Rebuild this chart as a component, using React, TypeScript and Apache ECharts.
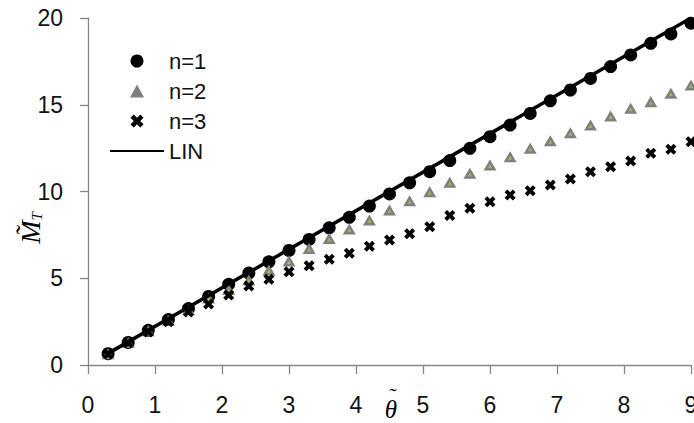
import React, { useEffect, useRef } from "react";
import * as echarts from "echarts";

const thetaValues = [0.3, 0.6, 0.9, 1.2, 1.5, 1.8, 2.1, 2.4, 2.7, 3.0, 3.3, 3.6, 3.9, 4.2, 4.5, 4.8, 5.1, 5.4, 5.7, 6.0, 6.3, 6.6, 6.9, 7.2, 7.5, 7.8, 8.1, 8.4, 8.7, 9.0];
const n1Values = [0.65, 1.3, 2.0, 2.62, 3.25, 3.95, 4.65, 5.3, 5.95, 6.6, 7.24, 7.91, 8.51, 9.16, 9.86, 10.5, 11.14, 11.78, 12.49, 13.16, 13.83, 14.5, 15.23, 15.85, 16.52, 17.2, 17.87, 18.54, 19.08, 19.7];
const n2Values = [0.65, 1.3, 1.97, 2.58, 3.2, 3.86, 4.36, 4.9, 5.48, 6.0, 6.72, 7.3, 7.84, 8.36, 8.93, 9.47, 9.99, 10.53, 11.05, 11.53, 12.0, 12.49, 12.93, 13.39, 13.83, 14.35, 14.8, 15.18, 15.66, 16.14];
const n3Values = [0.63, 1.27, 1.9, 2.5, 3.05, 3.52, 4.03, 4.55, 4.94, 5.38, 5.72, 6.09, 6.44, 6.84, 7.2, 7.57, 7.97, 8.62, 9.03, 9.41, 9.8, 10.05, 10.37, 10.72, 11.14, 11.43, 11.76, 12.2, 12.43, 12.87];
const linX = [0.3, 9.0];
const linY = [0.67, 20.0];
const xTicks = [0, 1, 2, 3, 4, 5, 6, 7, 8, 9];
const yTicks = [0, 5, 10, 15, 20];

const crossPath = "path://M0,2.5 L2.5,0 L5,2.5 L7.5,0 L10,2.5 L7.5,5 L10,7.5 L7.5,10 L5,7.5 L2.5,10 L0,7.5 L2.5,5 Z";
const trianglePath = "path://M6.5,0 L13,12 L0,12 Z";
const AXIS = "#868686";
const FONT = "'Liberation Sans', Arial, sans-serif";
const SERIF = "'Liberation Serif', 'DejaVu Serif', serif";

export default function App() {
  const ref = useRef<HTMLDivElement>(null);
  useEffect(() => {
    if (!ref.current) return;
    const chart = echarts.init(ref.current, null, { renderer: "svg" });
    const pairs = (ys: number[]) => thetaValues.map((x, i) => [x, ys[i]]);
    chart.setOption({
      animation: false,
      backgroundColor: "#fff",
      grid: { left: 88, right: 3, top: 18, bottom: 58, containLabel: false, outerBoundsMode: "none" },
      xAxis: {
        type: "value",
        min: xTicks[0],
        max: xTicks[xTicks.length - 1],
        interval: 1,
        axisLine: { show: true, lineStyle: { color: AXIS, width: 1.3 } },
        axisTick: { show: true, length: 9, lineStyle: { color: AXIS, width: 1.3 } },
        splitLine: { show: false },
        axisLabel: { color: "#111", fontFamily: FONT, fontSize: 23, margin: 28 },
      },
      yAxis: {
        type: "value",
        min: yTicks[0],
        max: yTicks[yTicks.length - 1],
        interval: 5,
        axisLine: { show: true, lineStyle: { color: AXIS, width: 1.3 } },
        axisTick: { show: true, length: 8, lineStyle: { color: AXIS, width: 1.3 } },
        splitLine: { show: false },
        axisLabel: { color: "#111", fontFamily: FONT, fontSize: 23, margin: 25 },
      },
      legend: {
        orient: "vertical",
        left: 104,
        top: 45,
        itemWidth: 54,
        itemHeight: 13,
        itemGap: 8,
        symbolKeepAspect: true,
        data: [
          { name: "n=1" },
          { name: "n=2" },
          { name: "n=3" },
          { name: "LIN", itemStyle: { opacity: 0 } },
        ],
        textStyle: { color: "#111", fontFamily: FONT, fontSize: 22 },
      },
      graphic: [
        {
          type: "text",
          x: 30,
          y: 228,
          rotation: Math.PI / 2,
          style: {
            text: "{m|M\u0303}{t|T}",
            align: "center",
            verticalAlign: "middle",
            rich: {
              m: { fontFamily: SERIF, fontStyle: "italic", fontSize: 28, fill: "#000" },
              t: { fontFamily: SERIF, fontStyle: "italic", fontSize: 15, fill: "#000", verticalAlign: "bottom", padding: [10, 0, 0, 0] },
            },
          },
        },
        {
          type: "text",
          x: 391,
          y: 405,
          style: {
            text: "{t|\u02DC}\n{th|\u03B8}",
            align: "center",
            verticalAlign: "middle",
            rich: {
              t: { fontFamily: SERIF, fontSize: 22, fill: "#000", lineHeight: 8, align: "center", padding: [0, 0, 0, 4] },
              th: { fontFamily: SERIF, fontStyle: "italic", fontSize: 25, fill: "#000", lineHeight: 20, align: "center" },
            },
          },
        },
      ],
      series: [
        {
          name: "n=1",
          type: "scatter",
          symbol: "circle",
          symbolSize: 13,
          itemStyle: { color: "#000", opacity: 1 },
          data: pairs(n1Values),
          z: 2,
        },
        {
          name: "n=2",
          type: "scatter",
          symbol: trianglePath,
          symbolSize: [13, 12],
          symbolKeepAspect: true,
          itemStyle: { color: "#7f7f7f", opacity: 1 },
          data: pairs(n2Values),
          z: 3,
        },
        {
          name: "n2-inner",
          type: "scatter",
          symbol: "triangle",
          symbolSize: [4, 4],
          symbolOffset: [0, 1],
          itemStyle: { color: "#9bbb59", opacity: 1 },
          data: pairs(n2Values),
          silent: true,
          z: 4,
        },
        {
          name: "n=3",
          type: "scatter",
          symbol: crossPath,
          symbolSize: 11,
          itemStyle: { color: "#000", opacity: 1 },
          data: pairs(n3Values),
          z: 5,
        },
        {
          name: "LIN",
          type: "line",
          showSymbol: false,
          symbol: "none",
          lineStyle: { color: "#000", width: 3.5 },
          itemStyle: { color: "#000" },
          data: linX.map((x, i) => [x, linY[i]]),
          z: 6,
        },
      ],
    });
    return () => chart.dispose();
  }, []);
  return (
    <div
      ref={ref}
      style={{ position: "fixed", left: 0, top: 0, width: 694, height: 423, background: "#fff" }}
    />
  );
}
